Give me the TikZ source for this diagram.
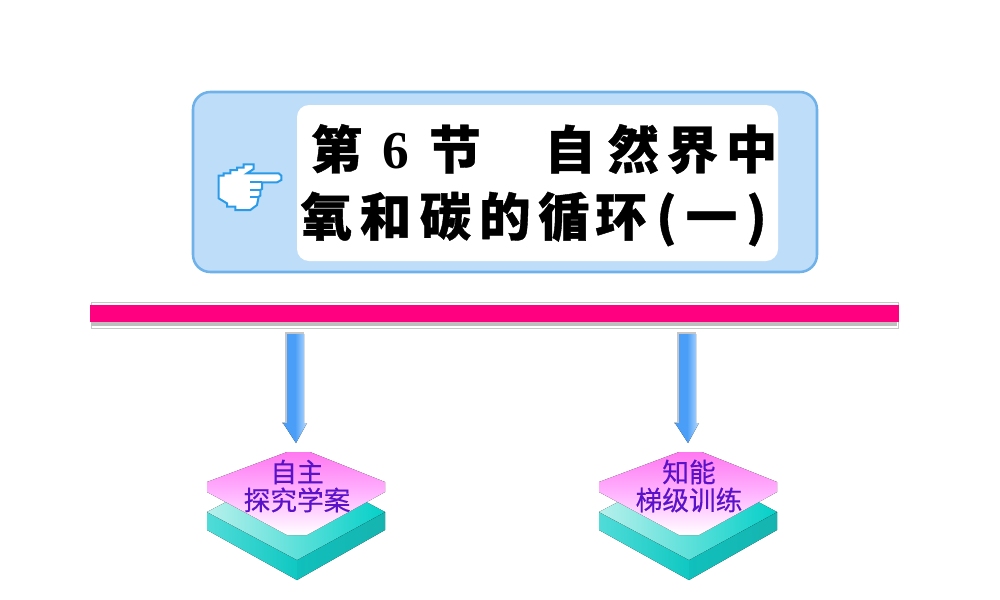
\documentclass[tikz,border=0pt]{standalone}
\usepackage{fontspec}
\setmainfont{Noto Sans CJK SC}
\newfontfamily\titlefont[BoldFeatures={FakeBold=0.8}]{Noto Sans CJK SC}
\newfontfamily\labelfont[FakeBold=0.35]{Noto Sans CJK SC}
\newfontfamily\digitfont{Liberation Serif}
\usetikzlibrary{calc}
\definecolor{cardfill}{HTML}{BEDDF8}
\definecolor{cardedge}{HTML}{6FB2EA}
\definecolor{barpink}{HTML}{FF0080}
\definecolor{handblue}{HTML}{2A9BE8}
\definecolor{labelviolet}{HTML}{5A12C8}
\definecolor{arrowdark}{HTML}{4A9EF8}
\definecolor{arrowlight}{HTML}{BCDCFC}
\definecolor{slabA}{HTML}{50DCD8}
\definecolor{slabB}{HTML}{10C8C2}
\definecolor{slabC}{HTML}{10C0BC}
\definecolor{slabD}{HTML}{16B4B0}
\definecolor{slabE}{HTML}{B8F0EC}
\definecolor{slabF}{HTML}{04D0C8}
\definecolor{plateA}{HTML}{FF78F0}
\definecolor{plateB}{HTML}{FFB4FF}
\newcommand{\tg}[2]{\makebox[\dimexpr #1pt*3/4\relax]{#2}}
\tikzset{
  titleline/.style={inner sep=0pt,anchor=center,font=\titlefont\bfseries\fontsize{38.5}{38.5}\selectfont},
  plabel/.style={inner sep=0pt,text=labelviolet,font=\labelfont\fontsize{20}{21}\selectfont,align=center},
  fatarrow/.style={left color=arrowdark,right color=arrowlight,middle color=arrowdark},
}
\newcommand{\stack}[3]{%
  \begin{scope}[shift={(#1,0)}]
    \fill[left color=slabA,right color=slabB] (207,512) -- (297,560) -- (297,580) -- (207,530) -- cycle;
    \fill[left color=slabC,right color=slabD] (297,560) -- (385,512) -- (385,530) -- (297,580) -- cycle;
    \fill[left color=slabE,right color=slabF] (207,512) -- (297,465) -- (385,512) -- (297,560) -- cycle;
    \fill[top color=plateA,bottom color=white,middle color=plateB] (287,452) -- (310,452) -- (385,482) -- (385,492) -- (307,535) -- (287,535) -- (207,492) -- (207,482) -- cycle;
    \node[plabel] (#2) at (297,486) {#3};
  \end{scope}}
\begin{document}
\begin{tikzpicture}[x=0.75pt,y=-0.75pt]
\useasboundingbox (0,0) rectangle (1000,600);
\fill[white] (0,0) rectangle (1000,600);
% title card
\draw[draw=cardedge,line width=1.9pt,fill=cardfill,rounded corners=13pt] (193,92) rectangle (817,272);
\fill[white,rounded corners=9pt] (297,105) rectangle (778,261);
\node[titleline] (title1) at (544,149) {\tg{59}{第}\tg{59}{\digitfont\fontsize{40}{40}\selectfont 6}\tg{60}{节}\tg{119}{　自}\tg{59}{然}\tg{59}{界}\tg{59}{中}};
\node[titleline] (title2) at (536,219) {\tg{58}{氧}\tg{60}{和}\tg{60}{碳}\tg{59}{的}\tg{59}{循}\tg{55}{环}\tg{36}{(}\tg{54}{一}\tg{36}{)}};
% pointing hand
\begin{scope}[shift={(212,155)},x=0.25pt,y=-0.25pt]
  \draw[handblue,line width=1.5pt,fill=white] (20,62) -- (35,62) -- (35,55) -- (55,55) -- (55,45) -- (75,45) -- (75,38) -- (95,38) -- (95,28) -- (125,28) -- (125,42) -- (105,55) -- (200,55) -- (208,62) -- (208,75) -- (195,82) -- (150,82) -- (150,102) -- (145,105) -- (145,122) -- (140,125) -- (135,150) -- (115,165) -- (70,165) -- (70,155) -- (45,155) -- (45,145) -- (20,130) -- cycle;
  \draw[handblue,line width=1.3pt] (115,82) -- (150,82) (115,104) -- (145,104) (115,126) -- (140,126);
\end{scope}
% bar
\draw[gray!45,line width=0.7pt,fill=white] (91,302) rectangle (898,328);
\fill[gray!50] (91,322) rectangle (897,326);
\node[fill=barpink,inner sep=0pt,minimum width=607pt,minimum height=12.8pt] (bar) at (494.5,313.5) {};
% stacks
\stack{0}{left}{自主\\探究学案}
\stack{392}{right}{知能\\梯级训练}
% arrows
\coordinate (a1) at (295.5,334);
\coordinate (a2) at (687.5,334);
\foreach \c in {a1,a2}{
  \fill[gray!45] ($(\c)+(-10.5,-2)$) rectangle ($(\c)+(8.5,88)$);
  \fill[gray!45] ($(\c)+(-13.5,88)$) rectangle ($(\c)+(-8,90)$);
  \fill[fatarrow] ($(\c)+(-8.5,0)$) -- ($(\c)+(8.5,0)$) -- ($(\c)+(8.5,89)$) -- ($(\c)+(11.5,89)$) -- ($(\c)+(0.5,109)$) -- ($(\c)+(-12.5,89)$) -- ($(\c)+(-8.5,89)$) -- cycle;
}
\end{tikzpicture}
\end{document}
